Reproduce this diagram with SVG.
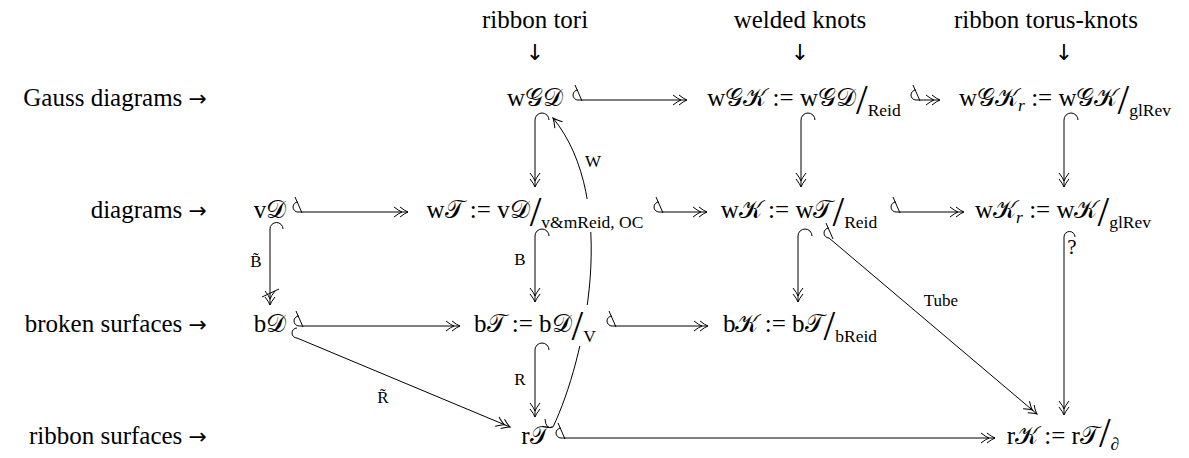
<svg xmlns="http://www.w3.org/2000/svg" width="1189" height="458" viewBox="0 0 1189 458">
<style>
text{font-family:"Liberation Serif","Times New Roman","DejaVu Serif",serif;fill:#000}
.m{font-size:25px}
.sub{font-size:17.5px}
.sl{font-size:42px}
.lb{font-size:17px}
.q{font-size:21px}
.ar{font-family:"DejaVu Sans",sans-serif;font-size:22px}
.ln{fill:none;stroke:#000;stroke-width:1}
.d2{marker-end:url(#h2)}
.d1{marker-end:url(#h1)}
</style>
<defs>
<marker id="h2" markerUnits="userSpaceOnUse" markerWidth="20" markerHeight="14" viewBox="-16 -7 20 14" refX="0" refY="0" orient="auto" overflow="visible">
<path d="M-8,-5 Q-3,-1 0,0 Q-3,1 -8,5 M-14,-5 Q-9,-1 -6,0 Q-9,1 -14,5" fill="none" stroke="#000" stroke-width="1"/>
</marker>
<marker id="h1" markerUnits="userSpaceOnUse" markerWidth="20" markerHeight="14" viewBox="-16 -7 20 14" refX="0" refY="0" orient="auto" overflow="visible">
<path d="M-9,-5 Q-3,-1 0,0 Q-3,1 -9,5" fill="none" stroke="#000" stroke-width="1"/>
</marker>
<path id="tl" d="M0,0 A5,5 0 0 1 0,-10 M-3,-15 L4,1"/>
<mask id="gap" maskUnits="userSpaceOnUse" x="0" y="0" width="1189" height="458">
<rect x="0" y="0" width="1189" height="458" fill="#fff"/>
<rect x="575" y="199" width="35" height="33" fill="#000"/>
<rect x="565" y="305" width="40" height="41" fill="#000"/>
</mask>
</defs>

<g id="toplabels">
<g id="col-ribbon-tori"><text class="m" x="535" y="28" text-anchor="middle">ribbon tori</text><text class="ar" x="535" y="60" text-anchor="middle">↓</text></g>
<g id="col-welded-knots"><text class="m" x="800" y="28" text-anchor="middle">welded knots</text><text class="ar" x="800" y="60" text-anchor="middle">↓</text></g>
<g id="col-ribbon-torus-knots"><text class="m" x="1046" y="28" text-anchor="middle">ribbon torus-knots</text><text class="ar" x="1064" y="60" text-anchor="middle">↓</text></g>
</g>

<g id="rowlabels">
<g id="row-gauss"><text class="m" x="207" y="106" text-anchor="end">Gauss diagrams <tspan class="ar">→</tspan></text></g>
<g id="row-diagrams"><text class="m" x="207" y="218" text-anchor="end">diagrams <tspan class="ar">→</tspan></text></g>
<g id="row-broken"><text class="m" x="207" y="332" text-anchor="end">broken surfaces <tspan class="ar">→</tspan></text></g>
<g id="row-ribbon"><text class="m" x="207" y="444" text-anchor="end">ribbon surfaces <tspan class="ar">→</tspan></text></g>
</g>

<g id="wGD"><text class="m" x="535" y="106" text-anchor="middle">w&#x1D4A2;&#x1D49F;</text></g>
<g id="wGK"><text class="m" x="804" y="106" text-anchor="middle">w&#x1D4A2;&#x1D4A6; := w&#x1D4A2;&#x1D49F;<tspan class="sl" dy="8">/</tspan><tspan class="sub" dy="2">Reid</tspan></text></g>
<g id="wGKr"><text class="m" x="1065" y="106" text-anchor="middle">w&#x1D4A2;&#x1D4A6;<tspan class="sub" font-style="italic" dy="5">r</tspan><tspan dy="-5"> := w&#x1D4A2;&#x1D4A6;</tspan><tspan class="sl" dy="8">/</tspan><tspan class="sub" dy="2">glRev</tspan></text></g>

<g id="vD"><text class="m" x="270" y="218" text-anchor="middle">v&#x1D49F;</text></g>
<g id="wT"><text class="m" x="535" y="218" text-anchor="middle">w&#x1D4AF; := v&#x1D49F;<tspan class="sl" dy="8">/</tspan><tspan class="sub" dy="2">v&amp;mReid, OC</tspan></text></g>
<g id="wK"><text class="m" x="799" y="218" text-anchor="middle">w&#x1D4A6; := w&#x1D4AF;<tspan class="sl" dy="8">/</tspan><tspan class="sub" dy="2">Reid</tspan></text></g>
<g id="wKr"><text class="m" x="1063" y="218" text-anchor="middle">w&#x1D4A6;<tspan class="sub" font-style="italic" dy="5">r</tspan><tspan dy="-5"> := w&#x1D4A6;</tspan><tspan class="sl" dy="8">/</tspan><tspan class="sub" dy="2">glRev</tspan></text></g>

<g id="bD"><text class="m" x="270" y="332" text-anchor="middle">b&#x1D49F;</text></g>
<g id="bT"><text class="m" x="535" y="332" text-anchor="middle">b&#x1D4AF; := b&#x1D49F;<tspan class="sl" dy="8">/</tspan><tspan class="sub" dy="2">V</tspan></text></g>
<g id="bK"><text class="m" x="800" y="332" text-anchor="middle">b&#x1D4A6; := b&#x1D4AF;<tspan class="sl" dy="8">/</tspan><tspan class="sub" dy="2">bReid</tspan></text></g>

<g id="rT"><text class="m" x="535" y="444" text-anchor="middle">r&#x1D4AF;</text></g>
<g id="rK"><text class="m" x="1063" y="444" text-anchor="middle">r&#x1D4A6; := r&#x1D4AF;<tspan class="sl" dy="3">/</tspan><tspan class="sub" dy="3">∂</tspan></text></g>

<g id="connectors">
<path class="ln d2" d="M578,100 H687"/><use href="#tl" x="578" y="100" class="ln"/>
<path class="ln d2" d="M916,100 H940"/><use href="#tl" x="916" y="100" class="ln"/>
<path class="ln d2" d="M298,212 H408"/><use href="#tl" x="298" y="212" class="ln"/>
<path class="ln d2" d="M659,212 H707"/><use href="#tl" x="659" y="212" class="ln"/>
<path class="ln d2" d="M896,212 H964"/><use href="#tl" x="896" y="212" class="ln"/>
<path class="ln d2" d="M299,326 H460"/><use href="#tl" x="299" y="326" class="ln"/>
<path class="ln d2" d="M612,326 H708"/><use href="#tl" x="612" y="326" class="ln"/>
<path class="ln d2" d="M561,438 H995"/><use href="#tl" x="561" y="438" class="ln"/>
<path class="ln d2" d="M549,120 A7,7 0 0 0 535,120 V187"/>
<path class="ln d2" d="M815,120 A7,7 0 0 0 801,120 V187"/>
<path class="ln d2" d="M1078,120 A7,7 0 0 0 1064,120 V187"/>
<path class="ln d2" d="M283,229 A6.5,6.5 0 0 0 270,229 V305"/>
<path class="ln" d="M262,297 L279,289"/>
<path class="ln d2" d="M549,236 A7,7 0 0 0 535,236 V302"/>
<path class="ln d2" d="M812,236 A7,7 0 0 0 798,236 V302"/>
<path class="ln d2" d="M1075,237 A5.5,5.5 0 0 0 1064,237 V415"/>
<path class="ln d2" d="M549,350 A7,7 0 0 0 535,350 V417"/>
<path class="ln d2" d="M297,338 L510,427"/>
<path class="ln" d="M297,338 A5,5 0 0 1 297,328"/>
<path class="ln d2" d="M829,238 L1037,414"/><use href="#tl" x="829" y="238" class="ln"/>
<path class="ln d1" mask="url(#gap)" d="M545,419 Q546,430 553,427 C585,360 620,200 553,118"/>
<text class="lb" x="593" y="167" text-anchor="middle">W</text>
<text class="lb" x="520" y="265" text-anchor="middle">B</text>
<text class="lb" x="520" y="385" text-anchor="middle">R</text>
<text class="lb" x="256" y="267" text-anchor="middle">B&#x303;</text>
<text class="lb" x="383" y="403" text-anchor="middle">R&#x303;</text>
<text class="lb" x="941" y="306" text-anchor="middle">Tube</text>
<text class="q" x="1072" y="254" text-anchor="middle">?</text>
</g>
</svg>
